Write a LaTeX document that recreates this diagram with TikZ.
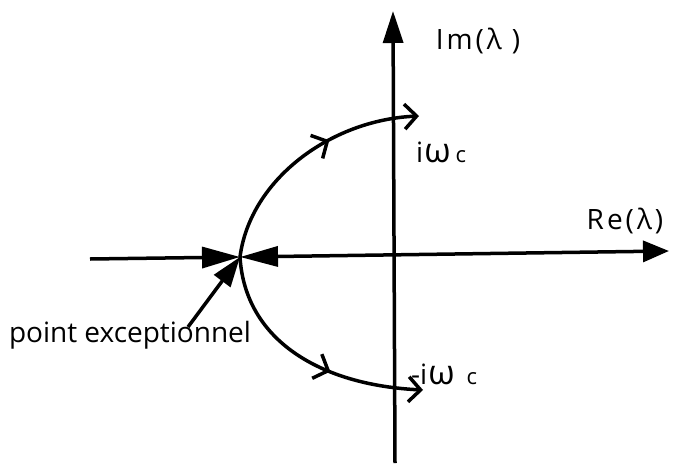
\documentclass[tikz,border=0pt]{standalone}
\usepackage{fontspec}
\setmainfont{Open Sans}
\usetikzlibrary{arrows.meta,decorations.markings}
\tikzset{
  ln/.style={line width=3.5pt},
  bigtip/.style={-{Triangle[length=38pt,width=21pt]}},
  axtip/.style={-{Triangle[length=32pt,width=20pt]}},
  opentip/.style={-{Straight Barb[length=12pt,width=25pt,line width=3.5pt]}},
  midopen/.style={postaction={decorate},decoration={markings,
     mark=at position #1 with {\arrow{Straight Barb[length=12pt,width=26pt,line width=3.5pt]}}}},
  lbl/.style={inner sep=0pt,font=\fontsize{28}{32}\selectfont}
}
\newcommand{\gp}{\hspace{3pt}}
\newcommand{\bigw}{{\fontsize{34}{36}\selectfont ω}}
\begin{document}
\begin{tikzpicture}[x=1pt,y=-1pt]
\useasboundingbox (0,0) rectangle (685,463);
% coordinates
\coordinate (P) at (240,257);
\coordinate (W) at (90,259);
\coordinate (E) at (669,251);
\coordinate (S) at (395,463);
\coordinate (N) at (393,11);
\coordinate (T) at (419,116);
\coordinate (B) at (423,390);
\coordinate (ptr) at (188,327);
% axes
\draw[ln,axtip] (S) -- (N);
\draw[ln,bigtip] (W) -- (P);
\draw[ln,{Triangle[length=38pt,width=20pt]}-{Triangle[length=26pt,width=21pt]}] (P) -- (E);
% arcs
\draw[ln,opentip,midopen=0.62] (P) .. controls (250,180) and (330,120) .. (T);
\draw[ln,opentip,midopen=0.62] (P) .. controls (245,340) and (320,385) .. (B);
% pointer
\draw[ln,-{Triangle[length=30pt,width=20pt]}] (ptr) -- (P);
% labels
\node[lbl] (im) at (478,41) {I\gp m\gp(\gp λ\hspace{10pt})};
\node[lbl] (re) at (625,221) {R\gp e\gp(\gp λ\gp)};
\node[lbl,anchor=base west] (wc) at (416,162) {i\hspace{1pt}\bigw\hspace{5pt}{\fontsize{22}{24}\selectfont c}};
\node[lbl,anchor=base west] (mwc) at (411,384) {-i\hspace{1pt}\bigw\hspace{12pt}{\fontsize{22}{24}\selectfont c}};
\node[lbl] (pe) at (130,335) {point exceptionnel};
\end{tikzpicture}
\end{document}
